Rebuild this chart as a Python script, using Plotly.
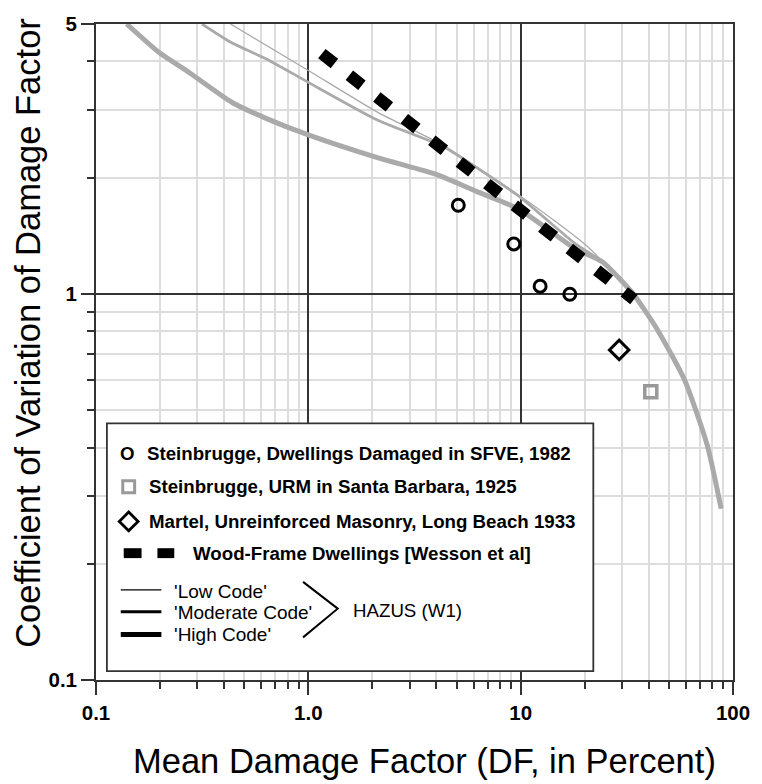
import plotly.graph_objects as go

# ---------------- data ----------------
high_x = [0.1395, 0.199, 0.2746, 0.4357, 0.628, 1.0, 2.114, 4.027, 6.19, 9.82, 18.13, 24.23, 33.9, 38.45, 44.2, 59.07, 75.6, 87.9]
high_y = [5.0, 4.21, 3.745, 3.136, 2.853, 2.58, 2.253, 2.037, 1.843, 1.657, 1.308, 1.211, 1.0, 0.906, 0.805, 0.5995, 0.4058, 0.278]

mod_x = [0.3157, 0.4357, 0.628, 1.0, 2.114, 4.342, 6.19, 9.82, 18.13, 24.23, 33.9, 38.45, 44.2, 59.07, 75.6, 87.9]
mod_y = [5.0, 4.47, 4.07, 3.53, 2.82, 2.404, 2.123, 1.789, 1.347, 1.211, 1.0, 0.906, 0.805, 0.5995, 0.4058, 0.278]

low_x = [0.43, 1.0, 2.114, 4.342, 9.82, 14.6, 20.2, 24.23, 33.9, 38.45, 44.2, 59.07, 75.6, 87.9]
low_y = [5.0, 3.79, 2.956, 2.42, 1.80, 1.54, 1.34, 1.215, 1.0, 0.906, 0.805, 0.5995, 0.4058, 0.278]

wood_x = [1.158, 34.16]
wood_y = [4.19, 0.967]

sfve_x = [5.085, 9.28, 12.35, 17.04]
sfve_y = [1.696, 1.347, 1.047, 0.998]

urm_x = [41.0]
urm_y = [0.558]

martel_x = [29.1]
martel_y = [0.716]

x_tickvals = [0.1, 1, 10, 100]
x_ticktext = ["0.1", "1.0", "10", "100"]
y_tickvals = [0.1, 1, 5]
y_ticktext = ["0.1", "1", "5"]
x_minor = [0.2, 0.3, 0.4, 0.5, 0.6, 0.7, 0.8, 0.9, 2, 3, 4, 5, 6, 7, 8, 9, 20, 30, 40, 50, 60, 70, 80, 90]
y_minor = [0.2, 0.3, 0.4, 0.5, 0.6, 0.7, 0.8, 0.9, 2, 3, 4]

legend_rows = [
    "Steinbrugge, Dwellings Damaged in SFVE, 1982",
    "Steinbrugge, URM in Santa Barbara, 1925",
    "Martel, Unreinforced Masonry, Long Beach 1933",
    "Wood-Frame Dwellings [Wesson et al]",
]
code_rows = ["'Low Code'", "'Moderate Code'", "'High Code'"]
hazus_label = "HAZUS (W1)"
x_title = "Mean Damage Factor (DF, in Percent)"
y_title = "Coefficient of Variation of Damage Factor"

# ---------------- layout geometry ----------------
W, H = 762, 784
L, R, T, B = 96, 23, 18, 104
PW, PH = W - L - R, H - T - B
FONT = "Liberation Sans, Arial, Helvetica, sans-serif"
DARK = "#333333"
GRAY = "#aaaaaa"


def px(xp):
    return (xp - L) / PW


def py(yp):
    return (H - B - yp) / PH


fig = go.Figure()

fig.add_trace(go.Scatter(x=low_x, y=low_y, mode="lines", line=dict(color=GRAY, width=1.3, shape="spline", smoothing=0.6), showlegend=False))
fig.add_trace(go.Scatter(x=mod_x, y=mod_y, mode="lines", line=dict(color=GRAY, width=2.7, shape="spline", smoothing=0.6), showlegend=False))
fig.add_trace(go.Scatter(x=high_x, y=high_y, mode="lines", line=dict(color=GRAY, width=5, shape="spline", smoothing=0.6), showlegend=False))
fig.add_trace(go.Scatter(x=wood_x, y=wood_y, mode="lines",
                         line=dict(color="black", width=12, dash="16px,19px"), showlegend=False))
fig.add_trace(go.Scatter(x=sfve_x, y=sfve_y, mode="markers",
                         marker=dict(symbol="circle-open", size=12, color="black", line=dict(width=3, color="black")),
                         showlegend=False))
fig.add_trace(go.Scatter(x=urm_x, y=urm_y, mode="markers",
                         marker=dict(symbol="square-open", size=12, color="#999999", line=dict(width=3.5, color="#999999")),
                         showlegend=False))
fig.add_trace(go.Scatter(x=martel_x, y=martel_y, mode="markers",
                         marker=dict(symbol="diamond-open", size=15, color="black", line=dict(width=3, color="black")),
                         showlegend=False))

shapes = []
# legend box
shapes.append(dict(type="rect", xref="paper", yref="paper", x0=px(107), x1=px(598), y0=py(671), y1=py(421),
                   fillcolor="white", line=dict(color=DARK, width=1.8), layer="above"))
# gray square symbol
shapes.append(dict(type="rect", xref="paper", yref="paper", x0=px(123), x1=px(135), y0=py(491), y1=py(479),
                   fillcolor="white", line=dict(color="#999999", width=3), layer="above"))
# diamond symbol
cx, cy, hd = 129, 520, 9.5
dpath = "M {} {} L {} {} L {} {} L {} {} Z".format(px(cx - hd), py(cy), px(cx), py(cy - hd), px(cx + hd), py(cy), px(cx), py(cy + hd))
shapes.append(dict(type="path", xref="paper", yref="paper", path=dpath, line=dict(color="black", width=2.8), layer="above"))
# wood-frame dash symbols
for a, b in [(124, 142), (158, 175)]:
    shapes.append(dict(type="rect", xref="paper", yref="paper", x0=px(a), x1=px(b), y0=py(557), y1=py(547),
                       fillcolor="black", line=dict(width=0), layer="above"))
# code line symbols
for yy, wd in [(589, 1.3), (611, 3), (634, 5)]:
    shapes.append(dict(type="line", xref="paper", yref="paper", x0=px(121), x1=px(162), y0=py(yy), y1=py(yy),
                       line=dict(color="black", width=wd), layer="above"))
# bracket
bpath = "M {} {} L {} {} L {} {}".format(px(305), py(581), px(340), py(608), px(305), py(637))
shapes.append(dict(type="path", xref="paper", yref="paper", path=bpath, line=dict(color="black", width=2), layer="above"))

ann = []
LF = 18.7
ann.append(dict(x=px(128), y=py(451), xref="paper", yref="paper", text="<b>O</b>", showarrow=False,
                xanchor="center", yanchor="middle", font=dict(family=FONT, size=LF, color="black")))
for txt, xl, yc in zip(legend_rows, [145, 147, 147, 192], [451, 485, 520, 552]):
    ann.append(dict(x=px(xl), y=py(yc), xref="paper", yref="paper", text="<b>" + txt + "</b>", showarrow=False,
                    xanchor="left", yanchor="middle", font=dict(family=FONT, size=LF, color="black")))
for txt, yc in zip(code_rows, [591, 612, 634]):
    ann.append(dict(x=px(173), y=py(yc), xref="paper", yref="paper", text=txt, showarrow=False,
                    xanchor="left", yanchor="middle", font=dict(family=FONT, size=19, color="black")))
ann.append(dict(x=px(353), y=py(610), xref="paper", yref="paper", text=hazus_label, showarrow=False,
                xanchor="left", yanchor="middle", font=dict(family=FONT, size=18.7, color="black")))
# axis titles
ann.append(dict(x=px(428), y=py(762), xref="paper", yref="paper", text=x_title, showarrow=False,
                xanchor="center", yanchor="middle", font=dict(family=FONT, size=34.5, color="black")))
ann.append(dict(x=px(28), y=py(330), xref="paper", yref="paper", text=y_title, showarrow=False, textangle=-90,
                xanchor="center", yanchor="middle", font=dict(family=FONT, size=34.5, color="black")))

axis_common = dict(
    type="log", showline=True, mirror=True, linecolor=DARK, linewidth=1.8,
    showgrid=True, gridcolor=DARK, gridwidth=1.5,
    ticks="outside", ticklen=13, tickwidth=1.8, tickcolor=DARK,
    tickfont=dict(family=FONT, size=20.5, color="black"),
    zeroline=False, fixedrange=True,
)

fig.update_layout(
    width=W, height=H,
    margin=dict(l=L, r=R, t=T, b=B, pad=0),
    paper_bgcolor="white", plot_bgcolor="white",
    showlegend=False,
    xaxis=dict(**axis_common, range=[-1, 2], tickmode="array", tickvals=x_tickvals,
               ticktext=["<b>" + t + "</b>" for t in x_ticktext],
               minor=dict(tickmode="array", tickvals=x_minor, ticks="outside", ticklen=7, tickwidth=1.8,
                          tickcolor=DARK, showgrid=True, gridcolor="#dddddd", gridwidth=2)),
    yaxis=dict(**axis_common, range=[-1, 0.69897], tickmode="array", tickvals=y_tickvals,
               ticktext=["<b>" + t + "</b>" for t in y_ticktext],
               minor=dict(tickmode="array", tickvals=y_minor, ticks="outside", ticklen=7, tickwidth=1.8,
                          tickcolor=DARK, showgrid=True, gridcolor="#dddddd", gridwidth=2)),
    shapes=shapes,
    annotations=ann,
)

fig.write_html(
    "out.html",
    config={"displayModeBar": False},
    post_script="document.body.style.margin='0px';document.body.style.padding='0px';document.body.style.overflow='hidden';",
)
